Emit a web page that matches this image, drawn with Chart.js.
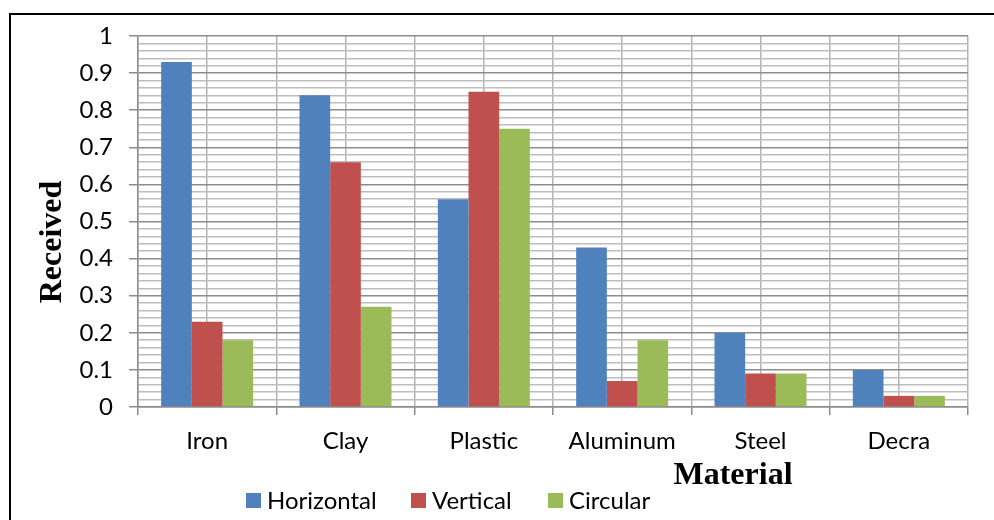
<!DOCTYPE html>
<html>
<head>
<meta charset="utf-8">
<script src="https://cdn.jsdelivr.net/npm/chart.js@4/dist/chart.umd.min.js"></script>
<style>
  html, body { margin: 0; padding: 0; background: #fff; }
  #wrap { position: relative; width: 994px; height: 520px; }
  #frame { position: absolute; left: 9px; top: 13px; right: -4px; bottom: -4px;
           border-left: 2px solid #000; border-top: 2px solid #000; pointer-events: none; }
  canvas { position: absolute; left: 0; top: 0; }
</style>
</head>
<body>
<div id="wrap">
  <canvas id="c" width="994" height="520"></canvas>
  <div id="frame"></div>
</div>
<script>
// Materials and received signal per antenna orientation
const materials = ['Iron', 'Clay', 'Plastic', 'Aluminum', 'Steel', 'Decra'];
const horizontal = [0.93, 0.84, 0.56, 0.43, 0.20, 0.10];
const vertical   = [0.23, 0.66, 0.85, 0.07, 0.09, 0.03];
const circular   = [0.18, 0.27, 0.75, 0.18, 0.09, 0.03];
const seriesNames = ['Horizontal', 'Vertical', 'Circular'];
const seriesColors = ['#4F81BD', '#C0504D', '#9BBB59'];

const tickFont = { family: 'Lato, "Open Sans", sans-serif', size: 24 };
const isMajor = v => Math.abs(Math.round(v * 100) % 10) === 0;

// Axis titles and legend placed at fixed spots around the plot
const decorations = {
  id: 'decorations',
  afterDraw(chart) {
    const ctx = chart.ctx;
    ctx.save();
    ctx.fillStyle = '#000';
    ctx.font = 'bold 32px "Liberation Serif", "Times New Roman", serif';
    ctx.textAlign = 'center';
    ctx.textBaseline = 'middle';
    ctx.fillText('Material', 733, 476);
    ctx.translate(53, 242);
    ctx.rotate(-Math.PI / 2);
    ctx.fillText('Received', 0, 0);
    ctx.restore();

    ctx.save();
    ctx.font = '24px Lato, "Open Sans", sans-serif';
    ctx.textBaseline = 'middle';
    const xs = [246, 411, 548];
    chart.data.datasets.forEach((ds, i) => {
      ctx.fillStyle = ds.backgroundColor;
      ctx.fillRect(xs[i], 493, 15, 15);
      ctx.fillStyle = '#000';
      ctx.fillText(ds.label, xs[i] + 21, 501);
    });
    ctx.restore();
  }
};

new Chart(document.getElementById('c'), {
  type: 'bar',
  data: {
    labels: materials,
    datasets: [
      { label: seriesNames[0], data: horizontal, backgroundColor: seriesColors[0] },
      { label: seriesNames[1], data: vertical,   backgroundColor: seriesColors[1] },
      { label: seriesNames[2], data: circular,   backgroundColor: seriesColors[2] }
    ]
  },
  options: {
    responsive: false,
    animation: false,
    layout: { padding: { left: 0, right: 26, top: 36, bottom: 0 } },
    datasets: { bar: { categoryPercentage: 0.665, barPercentage: 1.0, borderWidth: 0 } },
    plugins: { legend: { display: false }, tooltip: { enabled: false } },
    scales: {
      // boundary lines between materials, with tick marks below the axis
      x: {
        type: 'category',
        offset: true,
        grid: { offset: true, color: '#b4b4b4', lineWidth: 1.5, tickLength: 8, tickColor: '#8c8c8c' },
        border: { color: '#8c8c8c', width: 1.5 },
        ticks: { color: '#000', font: tickFont, padding: 12 },
        afterFit(s) { s.height = 113; }
      },
      // lines through the middle of each material
      xMid: {
        type: 'category',
        position: 'bottom',
        offset: true,
        ticks: { display: false },
        grid: { offset: false, color: '#b4b4b4', lineWidth: 1.5, drawTicks: false },
        border: { display: false },
        afterFit(s) { s.height = 0; }
      },
      y: {
        min: 0, max: 1,
        ticks: {
          stepSize: 0.02,
          color: '#000',
          font: tickFont,
          padding: 16,
          autoSkip: false,
          callback: v => isMajor(v) ? String(Math.round(v * 10) / 10) : ''
        },
        grid: {
          color: c => isMajor(c.tick.value) ? '#8c8c8c' : '#bdbdbd',
          lineWidth: 1.5,
          tickLength: 9,
          tickColor: c => isMajor(c.tick.value) ? '#8c8c8c' : 'rgba(0,0,0,0)'
        },
        border: { color: '#8c8c8c', width: 1.5 },
        afterFit(s) { s.width = 138; }
      }
    }
  },
  plugins: [decorations]
});
</script>
</body>
</html>
